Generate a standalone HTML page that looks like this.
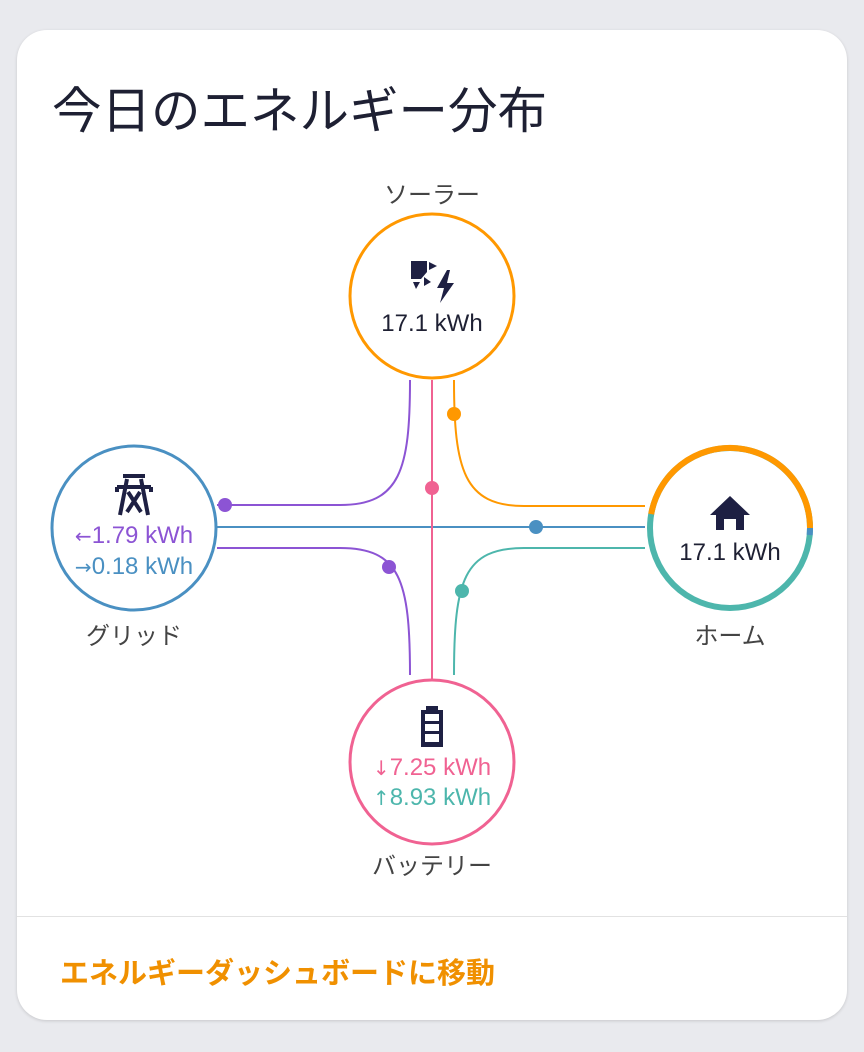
<!DOCTYPE html>
<html><head><meta charset="utf-8"><style>
body{margin:0;width:864px;height:1052px;background:#e9eaee;font-family:"Liberation Sans","Noto Sans CJK JP",sans-serif;position:relative;overflow:hidden}
.card{position:absolute;left:17px;top:30px;width:830px;height:990px;background:#fff;border-radius:30px;box-shadow:0 1px 3px rgba(0,0,0,.15)}
.t{position:absolute;white-space:nowrap}
.a{font-family:"DejaVu Sans",sans-serif;font-size:20px}
</style></head><body>
<div class="card"></div>
<div class="t" style="left:52px;top:72px;font-size:49.5px;color:#1e2033">今日のエネルギー分布</div>
<svg style="position:absolute;left:0;top:0" width="864" height="1052">
<g fill="none" stroke-width="2">
<path d="M410 380 C410 470 400 505 340 505 L217 505" stroke="#8c54d4"/>
<path d="M454 380 C454 470 464 506 524 506 L645 506" stroke="#ff9800"/>
<path d="M217 527 L645 527" stroke="#4a90c2"/>
<path d="M217 548 L340 548 C400 548 410 580 410 675" stroke="#8c54d4"/>
<path d="M645 548 L524 548 C464 548 454 580 454 675" stroke="#4db6ac"/>
<path d="M432 380 L432 680" stroke="#f06292"/>
</g>
<circle cx="225" cy="505" r="7" fill="#8c54d4"/>
<circle cx="454" cy="414" r="7" fill="#ff9800"/>
<circle cx="536" cy="527" r="7" fill="#4a90c2"/>
<circle cx="389" cy="567" r="7" fill="#8c54d4"/>
<circle cx="462" cy="591" r="7" fill="#4db6ac"/>
<circle cx="432" cy="488" r="7" fill="#f06292"/>
<circle cx="432" cy="296" r="82" fill="#fff" stroke="#ff9800" stroke-width="3"/>
<circle cx="134" cy="528" r="82" fill="#fff" stroke="#4a90c2" stroke-width="3"/>
<circle cx="432" cy="762" r="82" fill="#fff" stroke="#f06292" stroke-width="3"/>
<circle cx="730" cy="528" r="80" fill="#fff" stroke="#4db6ac" stroke-width="6"/>
<path d="M651.2 514.1 A80 80 0 0 1 810 528" fill="none" stroke="#ff9800" stroke-width="6"/>
<path d="M810 528 A80 80 0 0 1 809.7 535" fill="none" stroke="#4a90c2" stroke-width="6"/>
<g fill="#1e2043">
<path d="M411 261 L427 261 L427 272 L421 279 L411 279 Z"/><path d="M429 262 L437 266 L429 270 Z"/><path d="M413 282 L420 282 L416 289 Z"/><path d="M424 277 L431 282 L424 286 Z"/>
<path d="M447 270 L437 288 L444 288 L440 303 L454 283 L447 283 L450 270 Z"/>
<path d="M710 515 L730 496 L750 515 L744 515 L744 530 L736 530 L736 519 L724 519 L724 530 L716 530 L716 515 Z"/>
<path d="M426 706 h12 v4 h5 v37 h-22 v-37 h5 z M425 714 v7 h14 v-7 z M425 724 v7 h14 v-7 z M425 734 v8 h14 v-8 z" fill-rule="evenodd"/>
</g>
<g stroke="#1e2043" stroke-width="4" fill="none">
<path d="M123 476 h22 M117 487 h34 M127 479 l-7 36 M141 479 l7 36 M128 492 l13 20 M140 492 l-13 20 M117 487 v5 M151 487 v5"/>
</g>
</svg>
<div class="t" style="left:0;width:864px;text-align:center;top:175px;font-size:24px;color:#444">ソーラー</div>
<div class="t" style="left:332px;width:200px;text-align:center;top:310px;font-size:24px;color:#1e2033">17.1 kWh</div>
<div class="t" style="left:34px;width:200px;text-align:center;top:522px;font-size:24px;color:#8c54d4"><span class="a">←</span>1.79 kWh</div>
<div class="t" style="left:34px;width:200px;text-align:center;top:553px;font-size:24px;color:#4a90c2"><span class="a">→</span>0.18 kWh</div>
<div class="t" style="left:34px;width:200px;text-align:center;top:616px;font-size:24px;color:#444">グリッド</div>
<div class="t" style="left:630px;width:200px;text-align:center;top:539px;font-size:24px;color:#1e2033">17.1 kWh</div>
<div class="t" style="left:630px;width:200px;text-align:center;top:616px;font-size:24px;color:#444">ホーム</div>
<div class="t" style="left:332px;width:200px;text-align:center;top:754px;font-size:24px;color:#f06292"><span class="a">↓</span>7.25 kWh</div>
<div class="t" style="left:332px;width:200px;text-align:center;top:784px;font-size:24px;color:#4db6ac"><span class="a">↑</span>8.93 kWh</div>
<div class="t" style="left:332px;width:200px;text-align:center;top:846px;font-size:24px;color:#444">バッテリー</div>
<div style="position:absolute;left:17px;top:916px;width:830px;height:1px;background:#e2e2e2"></div>
<div class="t" style="left:60px;top:950px;font-size:29px;font-weight:bold;color:#f09000">エネルギーダッシュボードに移動</div>
</body></html>
